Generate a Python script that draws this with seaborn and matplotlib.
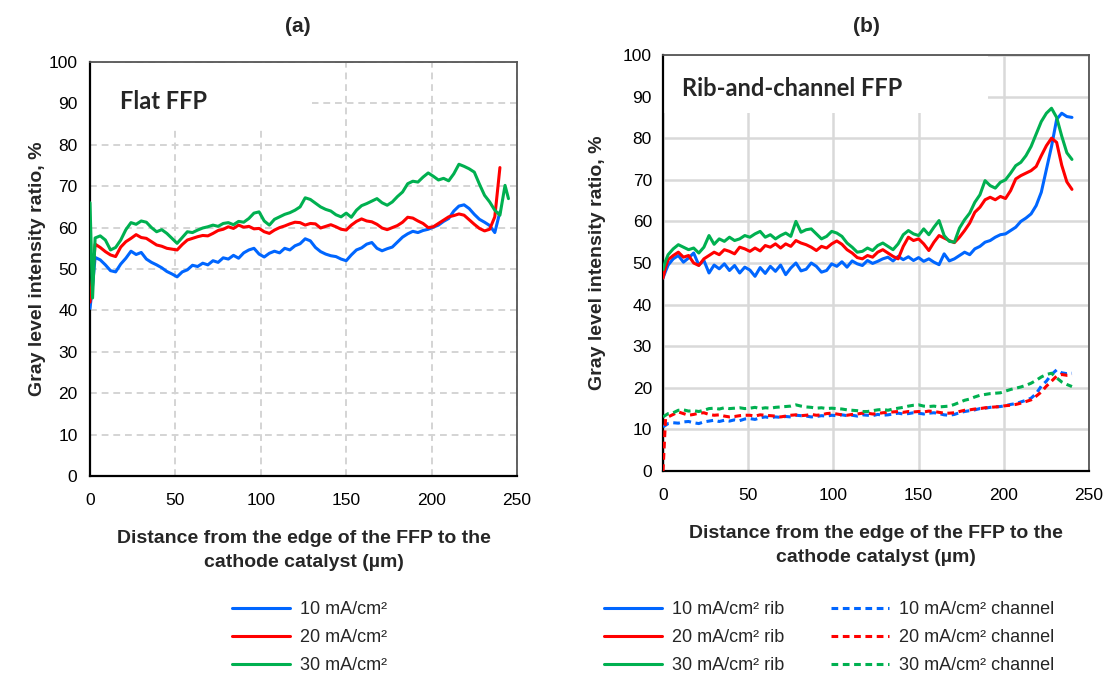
import numpy as np
import pandas as pd
import matplotlib
matplotlib.use("Agg")
import matplotlib.pyplot as plt
from matplotlib.patches import Rectangle
from matplotlib.lines import Line2D
import seaborn as sns

sns.set_style("white")
plt.rcParams['font.family'] = ['Liberation Sans', 'DejaVu Sans']

# ---------------- data ----------------
# shared x grid (µm): 0, 1.5, 3, 6, ..., 240
X_GRID = np.concatenate([[0, 1.5], np.arange(3, 241, 3)])
X_EXTRA_A_GREEN = [243, 245]

flat_10 = [40.5, 46.0, 52.8, 52.2, 51.0, 49.6, 49.3, 51.2, 52.6, 54.3,
           53.5, 54.0, 52.4, 51.6, 51.0, 50.3, 49.4, 48.8, 48.1, 49.3,
           49.8, 50.9, 50.6, 51.4, 51.0, 52.0, 51.6, 52.7, 52.4, 53.3,
           52.6, 53.9, 54.6, 55.0, 53.6, 52.9, 53.8, 54.3, 53.9, 55.0,
           54.6, 55.6, 56.1, 57.3, 56.8, 55.2, 54.2, 53.6, 53.2, 53.0,
           52.4, 52.0, 53.4, 54.6, 55.1, 56.0, 56.4, 55.0, 54.4, 54.9,
           55.3, 56.5, 57.7, 58.5, 59.1, 58.8, 59.3, 59.6, 60.1, 60.6,
           61.5, 62.2, 64.0, 65.2, 65.5, 64.6, 63.2, 62.0, 61.3, 60.5,
           58.8, 63.8]
flat_20 = [42.0, 48.0, 56.0, 55.2, 54.2, 53.4, 53.0, 55.3, 56.6, 57.4,
           58.3, 57.6, 57.4, 56.6, 55.8, 55.5, 55.0, 54.8, 54.6, 55.9,
           57.0, 57.4, 57.8, 58.1, 58.0, 58.6, 59.3, 59.6, 60.2, 59.8,
           60.6, 60.1, 60.3, 59.7, 59.8, 59.0, 58.6, 59.4, 60.0, 60.4,
           60.9, 61.3, 61.2, 60.6, 61.0, 60.9, 59.9, 60.3, 60.7, 60.2,
           59.6, 59.4, 60.6, 61.5, 62.1, 61.6, 61.4, 60.8, 59.9, 59.5,
           60.0, 60.5, 61.3, 62.5, 62.3, 61.6, 61.0, 60.0, 60.2, 61.0,
           61.8, 62.6, 62.9, 63.3, 63.0, 61.9, 60.8, 59.8, 59.2, 59.6,
           62.6, 74.5]
flat_30 = [66.0, 43.0, 57.5, 58.0, 57.0, 54.6, 55.2, 57.0, 59.5, 61.2,
           60.8, 61.6, 61.3, 60.0, 59.0, 59.5, 58.6, 57.4, 56.2, 57.6,
           59.0, 58.8, 59.4, 59.9, 60.2, 60.6, 60.3, 61.0, 61.2, 60.7,
           61.5, 61.3, 62.2, 63.5, 63.8, 61.6, 60.6, 62.0, 62.6, 63.2,
           63.6, 64.2, 65.0, 67.2, 66.8, 65.9, 65.0, 64.4, 64.0, 63.1,
           62.6, 63.5, 62.5, 64.2, 65.3, 65.8, 66.4, 67.0, 66.0, 65.4,
           66.2, 67.5, 68.6, 70.6, 71.2, 71.0, 72.2, 73.2, 72.4, 71.5,
           71.9, 71.3, 73.0, 75.3, 74.8, 74.2, 73.4, 70.5, 67.8, 66.2,
           64.2, 63.0, 70.2, 67.0]

rib_10 = [46.4, 48.0, 49.5, 51.0, 51.8, 50.2, 51.2, 52.4, 49.5, 50.6,
          47.6, 49.5, 48.6, 49.8, 48.2, 49.4, 47.6, 49.0, 48.3, 46.8,
          48.9, 47.5, 49.2, 48.0, 49.5, 47.2, 48.8, 50.0, 48.1, 48.5,
          50.0, 49.2, 47.8, 48.2, 49.8, 49.2, 50.3, 49.0, 50.5, 49.8,
          49.4, 50.6, 49.9, 50.4, 51.0, 51.4, 50.5, 51.6, 50.8, 51.5,
          50.6, 51.3, 50.4, 51.0, 50.2, 49.6, 52.2, 50.5, 51.0, 51.8,
          52.6, 52.0, 53.4, 54.0, 55.0, 55.4, 56.2, 56.8, 57.0, 57.8,
          58.6, 60.0, 60.8, 61.8, 63.8, 67.0, 72.5, 78.0, 84.5, 86.0,
          85.2, 85.0]
rib_20 = [46.4, 49.0, 50.8, 51.8, 52.6, 51.4, 51.8, 50.0, 49.4, 51.0,
          51.8, 52.6, 52.0, 53.2, 52.8, 52.2, 53.8, 53.4, 52.8, 53.6,
          52.9, 54.2, 53.8, 54.6, 53.6, 54.6, 54.0, 55.4, 54.8, 54.4,
          53.8, 53.0, 54.0, 53.6, 54.6, 55.3, 54.5, 53.2, 52.4, 51.3,
          51.0, 51.8, 51.4, 52.6, 53.2, 52.4, 51.6, 51.0, 54.0, 56.2,
          55.4, 55.8, 54.6, 53.0, 55.0, 56.6, 56.0, 55.4, 54.9, 56.2,
          57.8, 59.6, 62.2, 63.4, 65.2, 65.8, 65.2, 66.0, 65.5, 67.4,
          70.2, 71.0, 71.6, 72.2, 73.2, 75.8, 78.2, 80.0, 79.0, 73.5,
          69.5, 67.7]
rib_30 = [48.4, 50.5, 52.0, 53.4, 54.4, 53.8, 53.2, 53.6, 52.4, 53.8,
          56.6, 54.5, 55.8, 55.2, 56.2, 55.4, 55.8, 56.6, 56.2, 57.0,
          57.6, 56.2, 56.8, 55.8, 56.6, 57.2, 56.4, 60.0, 57.4, 58.0,
          58.2, 57.0, 55.8, 56.4, 57.6, 57.2, 56.4, 54.8, 53.8, 52.6,
          52.8, 53.6, 53.0, 54.2, 54.8, 54.0, 53.2, 54.6, 56.8, 57.8,
          57.0, 56.6, 58.2, 56.8, 58.6, 60.2, 56.6, 55.2, 55.0, 58.4,
          60.4, 62.0, 64.6, 66.4, 69.8, 68.6, 68.0, 69.4, 70.0, 71.6,
          73.4, 74.2, 75.8, 78.0, 81.0, 84.0, 86.0, 87.2, 85.0, 80.5,
          76.5, 74.9]

ch_10 = [10.6, 11.0, 11.4, 11.6, 11.5, 11.8, 11.9, 11.6, 11.4, 11.8,
         12.0, 12.2, 11.9, 12.2, 12.0, 12.3, 12.1, 12.5, 12.6, 12.4,
         12.8, 13.0, 12.8, 13.0, 12.9, 13.1, 13.0, 13.4, 13.3, 13.2,
         13.0, 13.1, 13.3, 13.2, 13.4, 13.3, 13.5, 13.3, 13.4, 13.2,
         13.5, 13.4, 13.3, 13.6, 13.4, 13.5, 13.7, 13.9, 13.7, 13.8,
         14.0, 13.9, 13.7, 13.9, 14.0, 13.8, 13.5, 13.4, 13.6, 14.0,
         14.3, 14.5, 14.7, 15.0, 15.1, 15.3, 15.4, 15.5, 15.7, 16.0,
         16.2, 16.6, 17.0, 17.5, 18.6, 20.4, 21.6, 23.2, 24.3, 23.6,
         23.4, 23.5]
ch_20 = [0.0, 12.6, 13.0, 13.6, 14.2, 13.8, 13.4, 13.6, 13.9, 14.0,
         13.6, 13.4, 13.5, 13.2, 13.0, 13.1, 13.3, 13.4, 13.4, 13.2,
         13.5, 13.4, 13.3, 13.2, 13.0, 13.2, 13.4, 13.5, 13.3, 13.4,
         13.6, 13.4, 13.5, 13.8, 13.9, 13.7, 13.5, 13.4, 13.6, 13.7,
         13.9, 13.9, 13.7, 13.8, 14.0, 14.1, 14.2, 14.3, 14.1, 14.3,
         14.2, 14.3, 14.2, 14.4, 14.3, 14.1, 13.9, 13.9, 14.0, 14.3,
         14.6, 14.7, 14.9, 15.0, 15.2, 15.3, 15.4, 15.5, 15.7, 15.8,
         16.0, 16.3, 16.7, 17.1, 18.0, 19.0, 20.4, 21.6, 22.8, 23.2,
         23.0, 23.1]
ch_30 = [13.0, 13.4, 13.8, 14.0, 14.6, 14.7, 14.4, 14.5, 14.3, 14.6,
         15.0, 15.1, 14.9, 15.2, 15.0, 15.1, 15.2, 15.0, 15.1, 15.3,
         15.0, 15.2, 15.1, 15.3, 15.4, 15.5, 15.6, 15.9, 15.6, 15.4,
         15.3, 15.1, 15.2, 15.0, 15.1, 15.0, 14.9, 14.7, 14.6, 14.5,
         14.3, 14.3, 14.5, 14.7, 14.8, 14.6, 14.9, 15.1, 15.3, 15.6,
         15.8, 15.9, 15.6, 15.5, 15.6, 15.4, 15.5, 15.6, 16.0, 16.5,
         17.0, 17.3, 17.8, 18.2, 18.4, 18.6, 18.7, 18.8, 19.2, 19.6,
         19.9, 20.2, 20.6, 21.1, 21.8, 22.6, 23.2, 23.5, 22.4, 21.4,
         20.8, 20.3]

LEGEND_A = ["10 mA/cm\u00b2", "20 mA/cm\u00b2", "30 mA/cm\u00b2"]
LEGEND_B_RIB = ["10 mA/cm\u00b2 rib", "20 mA/cm\u00b2 rib", "30 mA/cm\u00b2 rib"]
LEGEND_B_CH = ["10 mA/cm\u00b2 channel", "20 mA/cm\u00b2 channel", "30 mA/cm\u00b2 channel"]
Y_TICKS = [0, 10, 20, 30, 40, 50, 60, 70, 80, 90, 100]
X_TICKS = [0, 50, 100, 150, 200, 250]

BLUE, RED, GREEN = "#0066FF", "#FF0000", "#00B050"
LW = 2.2

fig = plt.figure(figsize=(11.05, 6.76), dpi=100)
W, H = 1105, 676
def fpos(l, t, r, b):
    return [l / W, 1 - b / H, (r - l) / W, (b - t) / H]

axA = fig.add_axes(fpos(90, 62, 517, 476))
axB = fig.add_axes(fpos(663, 55, 1089, 471))

BOLD = dict(fontweight="bold", family=["Liberation Sans", "DejaVu Sans"])

def style_axes(ax, dashed, ypad, ylabpad):
    ax.set_xlim(0, 250)
    ax.set_ylim(0, 100)
    ax.set_xticks(X_TICKS)
    ax.set_yticks(Y_TICKS)
    ax.set_axisbelow(True)
    if dashed:
        ax.grid(True, color="#D4D4D4", lw=1.4, linestyle=(0, (3.5, 2.5)))
    else:
        ax.grid(True, color="#D9D9D9", lw=1.8, linestyle="-")
    ax.tick_params(axis="both", direction="in", length=4, width=1.2,
                   labelsize=12.5, colors="black")
    ax.tick_params(axis="x", pad=12)
    ax.tick_params(axis="y", pad=ypad)
    for s in ["left", "bottom"]:
        ax.spines[s].set_color("black")
        ax.spines[s].set_linewidth(1.6)
    for s in ["top", "right"]:
        ax.spines[s].set_color("#555555")
        ax.spines[s].set_linewidth(1.3)
    ax.set_ylabel("Gray level intensity ratio, %", fontsize=14, labelpad=ylabpad, **BOLD)
    ax.set_xlabel("Distance from the edge of the FFP to the\ncathode catalyst (\u00b5m)",
                  fontsize=14, labelpad=16, linespacing=1.55, **BOLD)

# ---- panel (a)
style_axes(axA, dashed=True, ypad=9, ylabpad=2)
x_a_green = np.concatenate([X_GRID, X_EXTRA_A_GREEN])
sns.lineplot(x=X_GRID, y=flat_10, ax=axA, color=BLUE, lw=LW, legend=False, zorder=3)
sns.lineplot(x=X_GRID, y=flat_20, ax=axA, color=RED, lw=LW, legend=False, zorder=3)
sns.lineplot(x=x_a_green, y=flat_30, ax=axA, color=GREEN, lw=LW, legend=False, zorder=3)
axA.add_patch(Rectangle((0.003, 0.84), 0.517, 0.157, transform=axA.transAxes,
                        facecolor="white", edgecolor="none", zorder=1.5))
axA.text(0.07, 0.905, "Flat FFP", transform=axA.transAxes, fontsize=17,
         fontweight="bold", family=["Lato", "DejaVu Sans"], va="center", ha="left", zorder=4)

# ---- panel (b)
style_axes(axB, dashed=False, ypad=8, ylabpad=12)
dash = (0, (2.2, 1.5))
sns.lineplot(x=X_GRID, y=rib_10, ax=axB, color=BLUE, lw=LW, legend=False, zorder=3)
sns.lineplot(x=X_GRID, y=rib_20, ax=axB, color=RED, lw=LW, legend=False, zorder=3)
sns.lineplot(x=X_GRID, y=rib_30, ax=axB, color=GREEN, lw=LW, legend=False, zorder=3)
sns.lineplot(x=X_GRID, y=ch_10, ax=axB, color=BLUE, lw=LW, linestyle=dash, legend=False, zorder=3)
sns.lineplot(x=X_GRID, y=ch_20, ax=axB, color=RED, lw=LW, linestyle=dash, legend=False, zorder=3)
sns.lineplot(x=X_GRID, y=ch_30, ax=axB, color=GREEN, lw=LW, linestyle=dash, legend=False, zorder=3)
axB.add_patch(Rectangle((0.003, 0.86), 0.76, 0.137, transform=axB.transAxes,
                        facecolor="white", edgecolor="none", zorder=1.5))
axB.text(0.045, 0.92, "Rib-and-channel FFP", transform=axB.transAxes, fontsize=17,
         fontweight="bold", family=["Lato", "DejaVu Sans"], va="center", ha="left", zorder=4)

# titles
fig.text(298 / W, 1 - 27 / H, "(a)", ha="center", va="center", fontsize=15, **BOLD)
fig.text(866 / W, 1 - 27 / H, "(b)", ha="center", va="center", fontsize=15, **BOLD)

# legends
colors = [BLUE, RED, GREEN]
hA = [Line2D([], [], color=c, lw=LW) for c in colors]
fig.legend(hA, LEGEND_A, loc="upper left", bbox_to_anchor=(232 / W, 1 - 601 / H),
           frameon=False, fontsize=13, handlelength=3.2, handletextpad=0.55,
           labelspacing=0.62, borderpad=0, borderaxespad=0)
hB = [Line2D([], [], color=c, lw=LW) for c in colors] + \
     [Line2D([], [], color=c, lw=LW, linestyle=dash) for c in colors]
fig.legend(hB, LEGEND_B_RIB + LEGEND_B_CH, loc="upper left", ncol=2,
           bbox_to_anchor=(604 / W, 1 - 601 / H), frameon=False, fontsize=13,
           handlelength=3.2, handletextpad=0.55, labelspacing=0.62, columnspacing=2.6,
           borderpad=0, borderaxespad=0)

fig.savefig("out.png", dpi=100)
